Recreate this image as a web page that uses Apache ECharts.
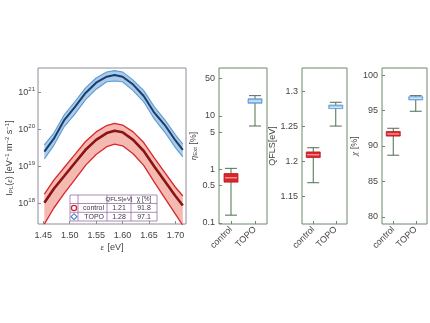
<!DOCTYPE html>
<html><head><meta charset="utf-8">
<script src="https://cdn.jsdelivr.net/npm/echarts@6/dist/echarts.min.js"></script>
<style>html,body{margin:0;padding:0;background:#fff}#c{width:430px;height:323px}</style>
</head><body><div id="c"></div>
<script>
// ---- spectra (photon energy in eV, PL flux in eV^-1 m^-2 s^-1) ----
const energy      = [1.452, 1.47, 1.49, 1.51, 1.53, 1.55, 1.57, 1.585, 1.60, 1.62, 1.64, 1.66, 1.68, 1.70, 1.714];
const topoCenter  = [2.5e19, 5.6e19, 1.8e20, 4.0e20, 9.5e20, 1.8e21, 2.6e21, 2.9e21, 2.6e21, 1.6e21, 7.9e20, 2.8e20, 1.3e20, 5.0e19, 2.8e19];
const topoUpper   = [3.8e19, 7.9e19, 2.5e20, 5.6e20, 1.3e21, 2.4e21, 3.5e21, 3.8e21, 3.5e21, 2.1e21, 1.1e21, 4.0e20, 1.8e20, 7.1e19, 4.0e19];
const topoLower   = [1.6e19, 3.7e19, 1.2e20, 2.6e20, 6.3e20, 1.2e21, 1.9e21, 2.0e21, 1.9e21, 1.1e21, 5.5e20, 1.9e20, 8.3e19, 3.2e19, 1.8e19];
const ctrlCenter  = [1.05e18, 2.5e18, 5.6e18, 1.26e19, 2.8e19, 5.2e19, 7.9e19, 9.1e19, 8.3e19, 5.2e19, 2.6e19, 1.0e19, 4.0e18, 1.6e18, 8.9e17];
const ctrlUpper   = [1.8e18, 4.3e18, 9.5e18, 2.1e19, 4.7e19, 8.5e19, 1.26e20, 1.45e20, 1.3e20, 8.5e19, 4.4e19, 1.7e19, 6.8e18, 2.75e18, 1.6e18];
const ctrlLower   = [2.8e17, 7.6e17, 1.9e18, 4.5e18, 1.07e19, 2.1e19, 3.4e19, 4.0e19, 3.6e19, 2.2e19, 1.07e19, 3.8e18, 1.4e18, 5.2e17, 2.6e17];
const energyTicks = [1.45, 1.50, 1.55, 1.60, 1.65, 1.70];
const fluxPowerTicks = [18, 19, 20, 21];

// ---- box plots: [min, Q1, median, Q3, max] ----
const groups  = ['control', 'TOPO'];
const etaBox  = [[0.14, 0.58, 0.70, 0.84, 1.05], [6.5, 17.3, 19, 21, 24]];
const qflsBox = [[1.169, 1.205, 1.209, 1.213, 1.219], [1.250, 1.275, 1.277, 1.280, 1.284]];
const chiBox  = [[88.7, 91.4, 91.7, 92.05, 92.5], [94.9, 96.5, 96.75, 96.95, 97.1]];
const etaTicks  = [0.1, 0.5, 1, 5, 10, 50];
const qflsTicks = [1.15, 1.2, 1.25, 1.3];
const chiTicks  = [80, 85, 90, 95, 100];

// ---- legend table ----
const legendHeader = ['QFLS[eV]', 'χ [%]'];
const legendRows = [['control', '1.21', '91.8'], ['TOPO', '1.28', '97.1']];

const L = v => Math.log10(v);
const TXT = '#444';
const RED = '#d9262b', RED_D = '#8a1414', RED_F = '#f4b9b0';
const BLU = '#5b9bd5', BLU_D = '#1d3c66', BLU_F = '#a9cbec', BLU_BOX = '#7eb3e3';
const WHISK = '#4e6e50', FRAME_R = '#6a8a6a', FRAME_L = '#8c8c99';
const boxFill = [ {fill: RED, border: '#c01c22', med: '#f6a9a9'}, {fill: BLU_BOX, border: '#5f9bd5', med: '#eef5fc'} ];

function band(upper, lower, color) {
  return {
    type: 'custom', xAxisIndex: 0, yAxisIndex: 0, clip: true, z: 1, silent: true,
    data: [0],
    renderItem: (params, api) => {
      const pts = [];
      for (let i = 0; i < energy.length; i++) pts.push(api.coord([energy[i], L(upper[i])]));
      for (let i = energy.length - 1; i >= 0; i--) pts.push(api.coord([energy[i], L(lower[i])]));
      return { type: 'polygon', shape: { points: pts }, style: { fill: color, stroke: null } };
    }
  };
}
function lineS(vals, color, width, z) {
  return {
    type: 'line', xAxisIndex: 0, yAxisIndex: 0, z: z || 3, silent: true,
    data: energy.map((e, i) => [e, L(vals[i])]),
    lineStyle: { color: color, width: width },
    symbol: 'none', showSymbol: false
  };
}
function boxSeries(idx, box, tf) {
  return {
    type: 'custom', xAxisIndex: idx, yAxisIndex: idx, silent: true, z: 3,
    data: box.map((b, i) => [i].concat(b.map(tf))),
    renderItem: (params, api) => {
      const i = api.value(0);
      const c = boxFill[i];
      const pMin = api.coord([i, api.value(1)]), pQ1 = api.coord([i, api.value(2)]),
            pMed = api.coord([i, api.value(3)]), pQ3 = api.coord([i, api.value(4)]),
            pMax = api.coord([i, api.value(5)]);
      const x = pMin[0], hw = 7, cw = 6;
      const ls = { stroke: WHISK, lineWidth: 1 };
      return { type: 'group', children: [
        { type: 'line', shape: { x1: x, y1: pMin[1], x2: x, y2: pMax[1] }, style: ls },
        { type: 'line', shape: { x1: x - cw, y1: pMin[1], x2: x + cw, y2: pMin[1] }, style: ls },
        { type: 'line', shape: { x1: x - cw, y1: pMax[1], x2: x + cw, y2: pMax[1] }, style: ls },
        { type: 'rect', shape: { x: x - hw, y: pQ3[1], width: 2 * hw, height: Math.max(pQ1[1] - pQ3[1], 1) },
          style: { fill: c.fill, stroke: c.border, lineWidth: 0.8 } },
        { type: 'line', shape: { x1: x - hw + 1, y1: pMed[1], x2: x + hw - 1, y2: pMed[1] },
          style: { stroke: c.med, lineWidth: 1.2 } }
      ] };
    }
  };
}
const ident = v => v;

const gridTop = 68, gridH = 156;
const grids = [
  { left: 38, top: gridTop, width: 148, height: gridH, show: true, borderColor: FRAME_L, borderWidth: 1 },
  { left: 219, top: gridTop, width: 48, height: gridH, show: true, borderColor: FRAME_R, borderWidth: 1 },
  { left: 302, top: gridTop, width: 45, height: gridH, show: true, borderColor: FRAME_R, borderWidth: 1 },
  { left: 382, top: gridTop, width: 45, height: gridH, show: true, borderColor: FRAME_R, borderWidth: 1 }
];

function catX(idx) {
  return {
    type: 'category', gridIndex: idx, data: groups, boundaryGap: true, position: 'bottom',
    axisLine: { show: false, onZero: false }, splitLine: { show: false },
    axisTick: { show: true, inside: true, alignWithLabel: true, length: 3, lineStyle: { color: FRAME_R } },
    axisLabel: { rotate: 45, fontSize: 9, color: TXT, margin: 4, interval: 0, fontFamily: 'Liberation Sans' }
  };
}
function valY(idx, min, max, ticks, fmt, name, gap, rich) {
  return {
    type: 'value', gridIndex: idx, min: min, max: max, scale: true,
    axisLine: { show: false, onZero: false }, splitLine: { show: false },
    axisTick: { show: true, inside: true, length: 3, customValues: ticks, lineStyle: { color: FRAME_R } },
    axisLabel: { customValues: ticks, formatter: fmt, fontSize: 9, color: TXT, margin: 4, fontFamily: 'Liberation Sans' },
    name: name, nameLocation: 'middle', nameGap: gap,
    nameTextStyle: { fontSize: 9, color: TXT, fontFamily: 'Liberation Sans', rich: rich || {} }
  };
}

const richBase = {
  n: { fontSize: 9, color: TXT, fontFamily: 'Liberation Sans' },
  i: { fontSize: 9, color: TXT, fontFamily: 'Liberation Serif', fontStyle: 'italic' },
  sub: { fontSize: 6, color: TXT, verticalAlign: 'bottom', fontFamily: 'Liberation Sans', padding: [4, 0, 0, 0] },
  sup: { fontSize: 6, color: TXT, verticalAlign: 'top', fontFamily: 'Liberation Sans', padding: [0, 0, 4, 0] }
};

const xAxes = [
  {
    type: 'value', gridIndex: 0, min: 1.44, max: 1.72,
    axisLine: { show: false, onZero: false }, splitLine: { show: false },
    axisTick: { show: true, inside: true, length: 3, customValues: energyTicks, lineStyle: { color: FRAME_L } },
    axisLabel: { customValues: energyTicks, formatter: v => v.toFixed(2), fontSize: 9, color: TXT, margin: 7, fontFamily: 'Liberation Sans' },
    name: '{i|ε} {n|[eV]}', nameLocation: 'middle', nameGap: 18,
    nameTextStyle: { rich: richBase }
  },
  catX(1), catX(2), catX(3)
];

const yAxes = [
  {
    type: 'value', gridIndex: 0, min: 17.45, max: 21.65,
    axisLine: { show: false, onZero: false }, splitLine: { show: false },
    axisTick: { show: true, inside: true, length: 3, customValues: fluxPowerTicks, lineStyle: { color: FRAME_L } },
    axisLabel: {
      customValues: fluxPowerTicks, margin: 3,
      formatter: v => '{b|10}{s|' + Math.round(v) + '}',
      rich: {
        b: { fontSize: 9, color: TXT, fontFamily: 'Liberation Sans', lineHeight: 12 },
        s: { fontSize: 6, color: TXT, fontFamily: 'Liberation Sans', verticalAlign: 'top', lineHeight: 12 }
      }
    },
    name: '{n|I}{sub|PL}{n|(}{i|ε}{n|) [eV}{sup|−1}{n| m}{sup|−2}{n| s}{sup|−1}{n|]}',
    nameLocation: 'middle', nameGap: 21,
    nameTextStyle: { padding: [0, 24, 0, 0], rich: richBase }
  },
  valY(1, -1.019, 1.897, etaTicks.map(L), v => String(parseFloat(Math.pow(10, v).toPrecision(2))),
       '{i|η}{sub|Ext}{n| [%]}', 11, richBase),
  valY(2, 1.11, 1.333, qflsTicks, v => String(parseFloat(v.toFixed(2))), 'QFLS[eV]', 22),
  valY(3, 79, 101, chiTicks, v => String(v), '{i|χ}{n| [%]}', 17, richBase)
];

const series = [
  band(topoUpper, topoLower, BLU_F),
  lineS(topoUpper, BLU, 1.1),
  lineS(topoLower, BLU, 1.1),
  lineS(topoCenter, BLU_D, 2, 4),
  band(ctrlUpper, ctrlLower, RED_F),
  lineS(ctrlUpper, RED, 1.3),
  lineS(ctrlLower, RED, 1.3),
  lineS(ctrlCenter, RED_D, 2.6, 4),
  boxSeries(1, etaBox, L),
  boxSeries(2, qflsBox, ident),
  boxSeries(3, chiBox, ident)
];

// legend table graphic
const T = { x0: 70, x1: 157, y0: 195, y1: 221, cols: [78, 107, 131], rows: [203.5, 212.3] };
const LC = '#9b6ba9';
const g = [];
g.push({ type: 'rect', shape: { x: T.x0, y: T.y0, width: T.x1 - T.x0, height: T.y1 - T.y0 }, style: { fill: '#fff', stroke: LC, lineWidth: 0.8 }, z: 100 });
T.rows.forEach(y => g.push({ type: 'line', shape: { x1: T.x0, y1: y, x2: T.x1, y2: y }, style: { stroke: LC, lineWidth: 0.8 }, z: 101 }));
T.cols.forEach(x => g.push({ type: 'line', shape: { x1: x, y1: T.y0, x2: x, y2: T.y1 }, style: { stroke: LC, lineWidth: 0.8 }, z: 101 }));
const tStyle = (txt, x, y, align, fs) => ({ type: 'text', x: x, y: y, z: 102,
  style: { text: txt, fontSize: fs || 7, fill: '#3a3a3a', align: align || 'center', verticalAlign: 'middle', fontFamily: 'Liberation Sans' } });
g.push(tStyle(legendHeader[0], 119, 199.5, 'center', 6.2));
g.push(tStyle(legendHeader[1], 144, 199.5, 'center', 6.5));
const rowY = [208, 216.7];
legendRows.forEach((r, i) => {
  g.push(tStyle(r[0], 104, rowY[i], 'right'));
  g.push(tStyle(r[1], 119, rowY[i]));
  g.push(tStyle(r[2], 144, rowY[i]));
});
g.push({ type: 'circle', shape: { cx: 74, cy: rowY[0], r: 2.6 }, style: { fill: 'none', stroke: RED, lineWidth: 1.3 }, z: 102 });
g.push({ type: 'polygon', shape: { points: [[74, rowY[1] - 3], [77, rowY[1]], [74, rowY[1] + 3], [71, rowY[1]]] }, style: { fill: 'none', stroke: '#4a86c8', lineWidth: 1.1 }, z: 102 });

const chart = echarts.init(document.getElementById('c'), null, { renderer: 'canvas' });
chart.setOption({
  animation: false,
  backgroundColor: '#fff',
  textStyle: { fontFamily: 'Liberation Sans' },
  grid: grids, xAxis: xAxes, yAxis: yAxes, series: series, graphic: g
});
</script></body></html>
